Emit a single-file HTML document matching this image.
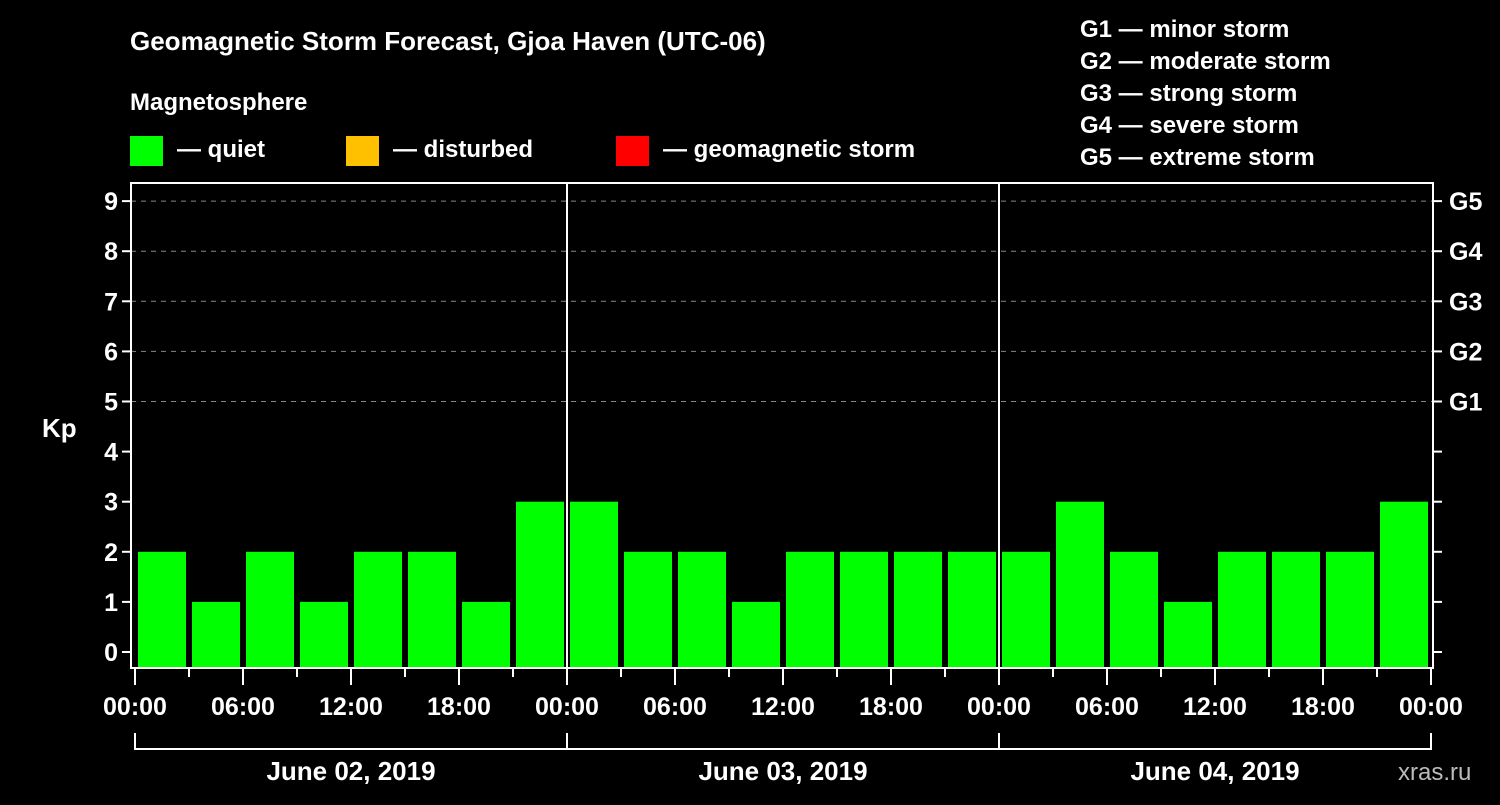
<!DOCTYPE html>
<html><head><meta charset="utf-8"><style>
body{margin:0;background:#000;width:1500px;height:800px;overflow:hidden}
svg text{font-family:"Liberation Sans",sans-serif;font-weight:bold;fill:#fff}
</style></head><body>
<svg width="1500" height="800" viewBox="0 0 1500 800">
<text x="130" y="50" font-size="26">Geomagnetic Storm Forecast, Gjoa Haven (UTC-06)</text>
<text x="130" y="110" font-size="24">Magnetosphere</text>
<rect x="130" y="136" width="33" height="30" fill="#00ff00"/>
<text x="177" y="157" font-size="24">— quiet</text>
<rect x="346" y="136" width="33" height="30" fill="#ffc000"/>
<text x="393" y="157" font-size="24">— disturbed</text>
<rect x="616" y="136" width="33" height="30" fill="#ff0000"/>
<text x="663" y="157" font-size="24">— geomagnetic storm</text>
<g font-size="24">
<text x="1080" y="37">G1 — minor storm</text>
<text x="1080" y="69">G2 — moderate storm</text>
<text x="1080" y="101">G3 — strong storm</text>
<text x="1080" y="133">G4 — severe storm</text>
<text x="1080" y="165">G5 — extreme storm</text>
</g>
<text x="42" y="437" font-size="26">Kp</text>
<text x="1398" y="780" font-size="24" fill="#bbb" style="fill:#bbb;font-weight:normal">xras.ru</text>
<g id="grid"></g><g id="bars"></g><g id="axes"></g>
</svg>
<script>
const days=["June 02, 2019","June 03, 2019","June 04, 2019"];
const kpDay1=[2,1,2,1,2,2,1,3];
const kpDay2=[3,2,2,1,2,2,2,2];
const kpDay3=[2,3,2,1,2,2,2,3];
const timeLabels=["00:00","06:00","12:00","18:00"];
const yTicks=[0,1,2,3,4,5,6,7,8,9];
const gLabels=["G1","G2","G3","G4","G5"];
const NS="http://www.w3.org/2000/svg";
const L=131,R=1433,T=183,B=668,X0=135,DAYW=432;
const y=v=>652-v*50.1;
const x=h=>X0+h*DAYW/24;
function mk(tag,attrs,parent,txt){const e=document.createElementNS(NS,tag);for(const k in attrs)e.setAttribute(k,attrs[k]);if(txt!==undefined)e.textContent=txt;document.getElementById(parent).appendChild(e);return e;}
for(const v of yTicks){
 if(v>=5){const g=mk('line',{x1:L,x2:R,y1:y(v),y2:y(v),stroke:'#888','stroke-dasharray':'5,5'},'grid');
 
 }
 const t=mk('line',{x1:L-9,x2:L,y1:y(v),y2:y(v),stroke:'#fff','stroke-width':2},'axes');
 
 
 const tl=mk('text',{x:L-13,y:y(v)+9,'font-size':25,'text-anchor':'end'},'axes',v);
 
 
 const rt=mk('line',{x1:R,x2:R+9,y1:y(v),y2:y(v),stroke:'#fff','stroke-width':2},'axes');
 
 
}
gLabels.forEach((g,i)=>{const t=mk('text',{x:1449,y:y(i+5)+9,'font-size':25},'axes',g);
 
 });
[kpDay1,kpDay2,kpDay3].forEach((arr,d)=>arr.forEach((v,i)=>{
 const h=d*24+i*3;
 const c=v>=5?'#ff0000':(v>=4?'#ffc000':'#00ff00');
 const b=mk('rect',{x:x(h)+3,y:y(v),width:48,height:B-1-y(v),fill:c},'bars');
 
 
}));
const fr=mk('rect',{x:L,y:T,width:R-L,height:B-T,fill:'none',stroke:'#fff','stroke-width':2},'axes');


for(let d=0;d<=3;d++){
 if(d>0&&d<3){const s=mk('line',{x1:x(d*24),x2:x(d*24),y1:T,y2:B,stroke:'#fff','stroke-width':2},'axes');
 
 }
}
for(let h=0;h<=72;h+=3){
 const major=h%6===0;
 const t=mk('line',{x1:x(h),x2:x(h),y1:B+1,y2:B+(major?17:9),stroke:'#fff','stroke-width':2},'axes');
 
 
 if(major){const tl=mk('text',{x:x(h),y:715,'font-size':25,'text-anchor':'middle'},'axes',timeLabels[(h%24)/6]);
 
 }
}
const br=mk('path',{d:`M${x(0)} 733V749H${x(72)}V733`+[1,2].map(d=>`M${x(d*24)} 733V749`).join(''),stroke:'#fff','stroke-width':2,fill:'none'},'axes');


days.forEach((dl,d)=>{const t=mk('text',{x:x(d*24+12),y:780,'font-size':26,'text-anchor':'middle'},'axes',dl);
 
 });
</script>
</body></html>
